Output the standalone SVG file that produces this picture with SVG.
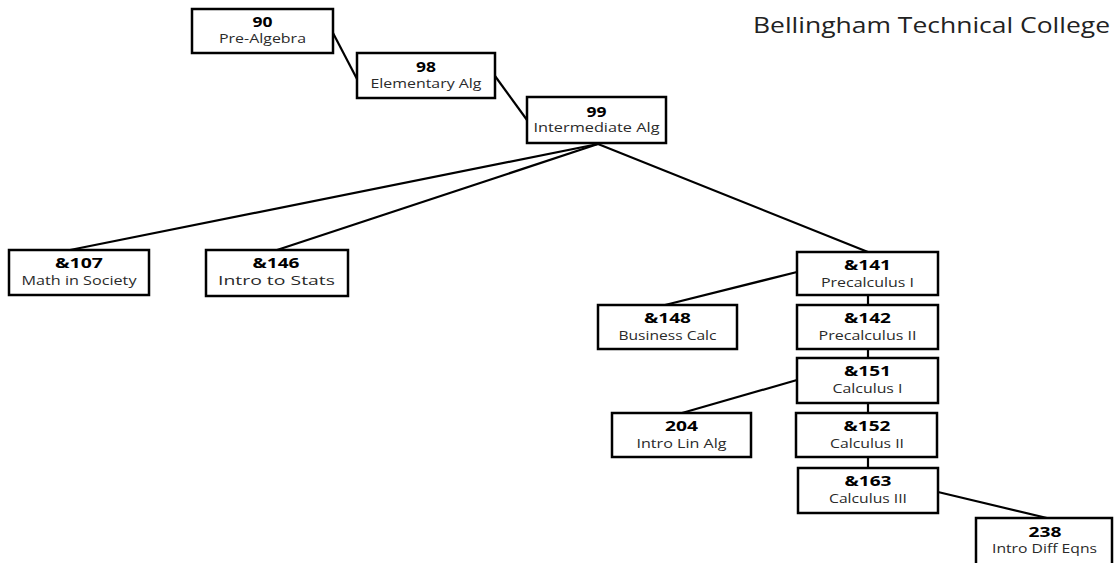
<svg xmlns="http://www.w3.org/2000/svg" width="1117" height="563" viewBox="0 0 1117 563">
<style>
  .box { fill: #fff; stroke: #000; stroke-width: 2.5; }
  .num { font-family: "Open Sans", "Liberation Sans", sans-serif; font-weight: bold; font-size: 13.5px; fill: #000; text-anchor: middle; }
  .lbl { font-family: "Open Sans", "Liberation Sans", sans-serif; font-size: 12.5px; fill: #2a2a2a; text-anchor: middle; }
  .title { font-family: "Open Sans", "Liberation Sans", sans-serif; font-size: 21px; fill: #222; }
  .conn line { stroke: #000; stroke-width: 2.2; }
</style>
<rect width="1117" height="563" fill="#fff"/>
<text class="title" x="753" y="33" textLength="357" lengthAdjust="spacingAndGlyphs">Bellingham Technical College</text>
<g id="connectors" class="conn">
  <line x1="333" y1="33" x2="357" y2="79"/>
  <line x1="495" y1="76" x2="527" y2="120"/>
  <line x1="598" y1="144" x2="70" y2="250"/>
  <line x1="598" y1="144" x2="277" y2="250"/>
  <line x1="598" y1="144" x2="868" y2="252"/>
  <line x1="797" y1="272" x2="665" y2="305"/>
  <line x1="868" y1="295" x2="868" y2="305"/>
  <line x1="868" y1="349" x2="868" y2="358"/>
  <line x1="797" y1="380" x2="682" y2="413"/>
  <line x1="868" y1="403" x2="868" y2="413"/>
  <line x1="868" y1="457" x2="868" y2="468"/>
  <line x1="938" y1="492" x2="1047" y2="518"/>
</g>
<g id="n90">
  <rect class="box" x="192" y="9" width="141" height="44"/>
  <text class="num" x="262.5" y="27" textLength="20" lengthAdjust="spacingAndGlyphs">90</text>
  <text class="lbl" x="262.5" y="43" textLength="87" lengthAdjust="spacingAndGlyphs">Pre-Algebra</text>
</g>
<g id="n98">
  <rect class="box" x="357" y="53" width="138" height="45"/>
  <text class="num" x="426" y="72" textLength="20" lengthAdjust="spacingAndGlyphs">98</text>
  <text class="lbl" x="426" y="88" textLength="111" lengthAdjust="spacingAndGlyphs">Elementary Alg</text>
</g>
<g id="n99">
  <rect class="box" x="527" y="97" width="139" height="46"/>
  <text class="num" x="596.5" y="117" textLength="20" lengthAdjust="spacingAndGlyphs">99</text>
  <text class="lbl" x="596.5" y="132" textLength="126" lengthAdjust="spacingAndGlyphs">Intermediate Alg</text>
</g>
<g id="n107">
  <rect class="box" x="9" y="250" width="140" height="45"/>
  <text class="num" x="79" y="268" textLength="48" lengthAdjust="spacingAndGlyphs">&amp;107</text>
  <text class="lbl" x="79" y="285" textLength="115" lengthAdjust="spacingAndGlyphs">Math in Society</text>
</g>
<g id="n146">
  <rect class="box" x="206" y="250" width="142" height="46"/>
  <text class="num" x="276" y="268" textLength="47" lengthAdjust="spacingAndGlyphs">&amp;146</text>
  <text class="lbl" x="276.5" y="285" textLength="117" lengthAdjust="spacingAndGlyphs">Intro to Stats</text>
</g>
<g id="n141">
  <rect class="box" x="797" y="252" width="141" height="43"/>
  <text class="num" x="867.5" y="270" textLength="47" lengthAdjust="spacingAndGlyphs">&amp;141</text>
  <text class="lbl" x="867.5" y="287" textLength="93" lengthAdjust="spacingAndGlyphs">Precalculus I</text>
</g>
<g id="n148">
  <rect class="box" x="598" y="305" width="139" height="44"/>
  <text class="num" x="667.5" y="323" textLength="47" lengthAdjust="spacingAndGlyphs">&amp;148</text>
  <text class="lbl" x="667.5" y="340" textLength="98" lengthAdjust="spacingAndGlyphs">Business Calc</text>
</g>
<g id="n142">
  <rect class="box" x="797" y="305" width="141" height="44"/>
  <text class="num" x="867.5" y="323" textLength="47" lengthAdjust="spacingAndGlyphs">&amp;142</text>
  <text class="lbl" x="867.5" y="340" textLength="98" lengthAdjust="spacingAndGlyphs">Precalculus II</text>
</g>
<g id="n151">
  <rect class="box" x="797" y="358" width="141" height="45"/>
  <text class="num" x="867.5" y="376" textLength="47" lengthAdjust="spacingAndGlyphs">&amp;151</text>
  <text class="lbl" x="867.5" y="393" textLength="70" lengthAdjust="spacingAndGlyphs">Calculus I</text>
</g>
<g id="n204">
  <rect class="box" x="612" y="413" width="139" height="44"/>
  <text class="num" x="681.5" y="431" textLength="33" lengthAdjust="spacingAndGlyphs">204</text>
  <text class="lbl" x="681.5" y="448" textLength="90" lengthAdjust="spacingAndGlyphs">Intro Lin Alg</text>
</g>
<g id="n152">
  <rect class="box" x="796" y="413" width="141" height="44"/>
  <text class="num" x="867" y="431" textLength="47" lengthAdjust="spacingAndGlyphs">&amp;152</text>
  <text class="lbl" x="867" y="448" textLength="74" lengthAdjust="spacingAndGlyphs">Calculus II</text>
</g>
<g id="n163">
  <rect class="box" x="798" y="468" width="140" height="45"/>
  <text class="num" x="868" y="486" textLength="47" lengthAdjust="spacingAndGlyphs">&amp;163</text>
  <text class="lbl" x="868" y="503" textLength="78" lengthAdjust="spacingAndGlyphs">Calculus III</text>
</g>
<g id="n238">
  <rect class="box" x="976" y="518" width="136" height="52"/>
  <text class="num" x="1045" y="537" textLength="33" lengthAdjust="spacingAndGlyphs">238</text>
  <text class="lbl" x="1044.5" y="553" textLength="105" lengthAdjust="spacingAndGlyphs">Intro Diff Eqns</text>
</g>
</svg>
